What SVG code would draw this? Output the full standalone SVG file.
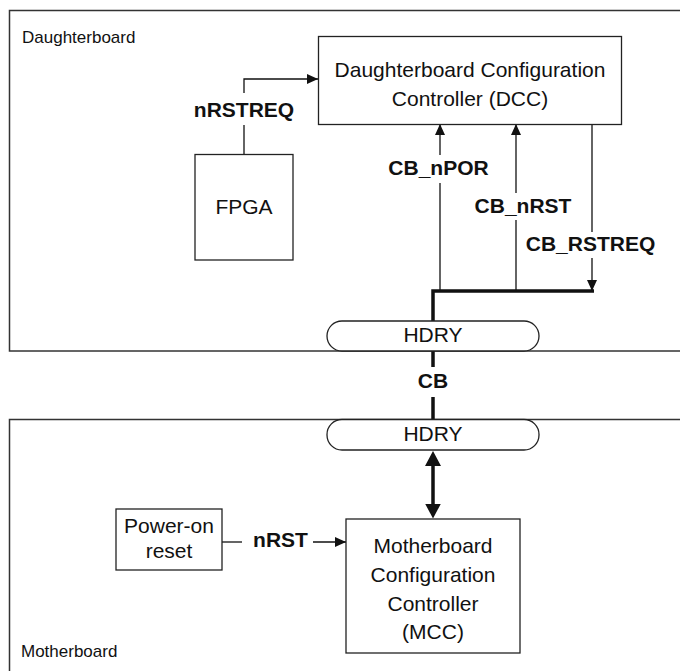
<svg xmlns="http://www.w3.org/2000/svg" width="680" height="671" viewBox="0 0 680 671">
<defs>
<style>
.board{fill:none;stroke:#333;stroke-width:1.5}
.box{fill:#fff;stroke:#222;stroke-width:1.3}
.t{font-family:"Liberation Sans",Arial,sans-serif;font-size:21px;fill:#111}
.c{text-anchor:middle}
.b{font-weight:bold}
.w{fill:none;stroke:#111;stroke-width:1.3}
.bus{fill:none;stroke:#111;stroke-width:3.5}
</style>
<marker id="ah" markerWidth="11" markerHeight="10" refX="11" refY="5" orient="auto" markerUnits="userSpaceOnUse">
<path d="M0,0 L11,5 L0,10 Z" fill="#111"/>
</marker>
<marker id="ahb" markerWidth="15" markerHeight="16" refX="15" refY="8" orient="auto" markerUnits="userSpaceOnUse">
<path d="M0,0 L15,8 L0,16 Z" fill="#111"/>
</marker>
<marker id="ahbs" markerWidth="15" markerHeight="16" refX="0" refY="8" orient="auto" markerUnits="userSpaceOnUse">
<path d="M15,0 L0,8 L15,16 Z" fill="#111"/>
</marker>
</defs>
<rect width="680" height="671" fill="#fff"/>
<g id="daughterboard">
<rect class="board" x="9.5" y="10.5" width="690" height="340.5"/>
<text class="t" x="22" y="43" style="font-size:17px">Daughterboard</text>
</g>
<g id="motherboard">
<rect class="board" x="9.5" y="419.5" width="690" height="300"/>
<text class="t" x="21" y="657" style="font-size:17px">Motherboard</text>
</g>
<g id="connectors">
<polyline class="w" points="244,154 244,125"/>
<polyline class="w" points="244,93 244,79 318,79" marker-end="url(#ah)"/>
<polyline class="w" points="440,291 440,183"/>
<polyline class="w" points="440,155 440,124" marker-end="url(#ah)"/>
<polyline class="w" points="516,291 516,220"/>
<polyline class="w" points="516,193 516,124" marker-end="url(#ah)"/>
<polyline class="w" points="592,124 592,232"/>
<polyline class="w" points="592,258 592,291" marker-end="url(#ah)"/>
<polyline class="bus" points="433,321 433,291 594,291"/>
<line class="bus" x1="433" y1="351" x2="433" y2="367"/>
<line class="bus" x1="433" y1="397" x2="433" y2="419"/>
<line class="bus" x1="433" y1="464" x2="433" y2="505"/>
<line x1="433" y1="451" x2="433" y2="518.5" stroke="none" marker-start="url(#ahbs)" marker-end="url(#ahb)"/>
<line class="w" x1="222" y1="542" x2="242" y2="542"/>
<line class="w" x1="313" y1="542" x2="346" y2="542" marker-end="url(#ah)"/>
<text class="t b c" x="244" y="117">nRSTREQ</text>
<text class="t b c" x="438.5" y="175">CB_nPOR</text>
<text class="t b c" x="523" y="213">CB_nRST</text>
<text class="t b c" x="590.5" y="251">CB_RSTREQ</text>
<text class="t b c" x="433" y="388">CB</text>
<text class="t b c" x="280.5" y="547">nRST</text>
</g>
<g id="dcc">
<rect class="box" x="318.5" y="36.5" width="303" height="88"/>
<text class="t c" x="470" y="77">Daughterboard Configuration</text>
<text class="t c" x="470" y="106">Controller (DCC)</text>
</g>
<g id="fpga">
<rect class="box" x="195" y="154.5" width="98" height="105.5"/>
<text class="t c" x="244" y="214">FPGA</text>
</g>
<g id="hdry-top">
<rect class="box" x="327" y="321" width="212" height="30" rx="15"/>
<text class="t c" x="433" y="342">HDRY</text>
</g>
<g id="hdry-bottom">
<rect class="box" x="327" y="419.5" width="212" height="30.5" rx="15"/>
<text class="t c" x="433" y="441">HDRY</text>
</g>
<g id="por">
<rect class="box" x="116" y="509" width="106" height="61"/>
<text class="t c" x="169" y="533">Power-on</text>
<text class="t c" x="169" y="558">reset</text>
</g>
<g id="mcc">
<rect class="box" x="346" y="519" width="174" height="134"/>
<text class="t c" x="433" y="553">Motherboard</text>
<text class="t c" x="433" y="582">Configuration</text>
<text class="t c" x="433" y="611">Controller</text>
<text class="t c" x="433" y="639">(MCC)</text>
</g>
</svg>
